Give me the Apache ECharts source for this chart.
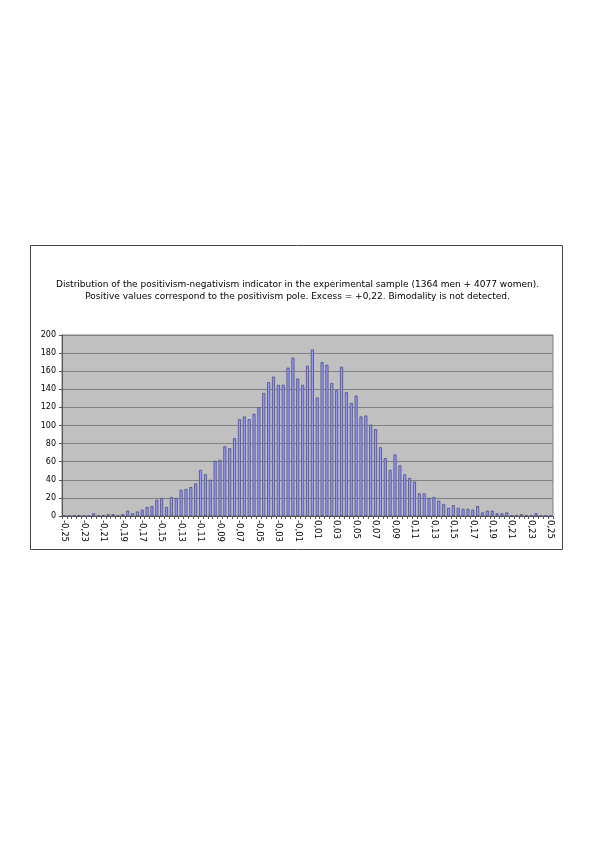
<!DOCTYPE html>
<html>
<head>
<meta charset="utf-8">
<style>
html,body{margin:0;padding:0;background:#fff;}
#chart{width:595px;height:842px;}
</style>
<script src="https://cdn.jsdelivr.net/npm/echarts@6/dist/echarts.min.js"></script>
</head>
<body>
<div id="chart"></div>
<script>
// Bin labels (centers), step 0.005 from -0.25 to 0.25
var categories = [
"-0,25","-0,245","-0,24","-0,235","-0,23","-0,225","-0,22","-0,215","-0,21","-0,205",
"-0,2","-0,195","-0,19","-0,185","-0,18","-0,175","-0,17","-0,165","-0,16","-0,155",
"-0,15","-0,145","-0,14","-0,135","-0,13","-0,125","-0,12","-0,115","-0,11","-0,105",
"-0,1","-0,095","-0,09","-0,085","-0,08","-0,075","-0,07","-0,065","-0,06","-0,055",
"-0,05","-0,045","-0,04","-0,035","-0,03","-0,025","-0,02","-0,015","-0,01","-0,005",
"0","0,005","0,01","0,015","0,02","0,025","0,03","0,035","0,04","0,045",
"0,05","0,055","0,06","0,065","0,07","0,075","0,08","0,085","0,09","0,095",
"0,1","0,105","0,11","0,115","0,12","0,125","0,13","0,135","0,14","0,145",
"0,15","0,155","0,16","0,165","0,17","0,175","0,18","0,185","0,19","0,195",
"0,2","0,205","0,21","0,215","0,22","0,225","0,23","0,235","0,24","0,245",
"0,25"
];
// Counts per bin
var counts = [
0,0,1,1,0,0,3,1,1,2,
2,1,2,6,3,5,7,10,11,18,
20,10,21,20,29,30,32,36,51,46,
40,61,62,77,75,86,107,110,107,113,
120,136,148,154,145,145,164,175,152,145,
166,184,131,170,167,147,139,165,137,125,
133,110,111,101,96,76,64,51,68,56,
46,42,38,25,25,20,21,17,13,9,
12,9,8,8,7,11,4,6,6,3,
3,4,1,1,2,1,1,3,0,0,
0
];
var yTicks = [0,20,40,60,80,100,120,140,160,180,200];
var titleLines = [
"Distribution of the positivism-negativism indicator in the experimental sample (1364 men + 4077 women).",
"Positive values correspond to the positivism pole. Excess = +0,22. Bimodality is not detected."
];

var chart = echarts.init(document.getElementById('chart'), null, {renderer:'canvas'});
var FONT = 'DejaVu Sans';
chart.setOption({
  animation:false,
  backgroundColor:'#ffffff',
  title:{
    text: titleLines.join('\n'),
    left:'center',
    top:274,
    textStyle:{fontFamily:FONT,fontSize:9,fontWeight:'normal',color:'#000',lineHeight:12}
  },
  grid:{left:62,right:42,top:335,bottom:326,show:true,backgroundColor:'#c0c0c0',borderColor:'#808080',borderWidth:1},
  xAxis:{
    type:'category',
    data:categories,
    boundaryGap:true,
    axisLine:{show:true,lineStyle:{color:'#555',width:1}},
    axisTick:{show:true,interval:0,length:3,lineStyle:{color:'#555'}},
    axisLabel:{interval:3,rotate:-90,margin:4,fontFamily:FONT,fontSize:8.5,color:'#000'},
    splitLine:{show:false}
  },
  yAxis:{
    type:'value',
    min:yTicks[0],
    max:yTicks[yTicks.length-1],
    interval:20,
    axisLine:{show:true,lineStyle:{color:'#555',width:1}},
    axisTick:{show:true,length:3,lineStyle:{color:'#555'}},
    axisLabel:{margin:6,fontFamily:FONT,fontSize:8,color:'#000'},
    splitLine:{show:true,lineStyle:{color:'#808080',width:1}}
  },
  series:[{
    type:'bar',
    data:counts,
    barCategoryGap:'38%',
    itemStyle:{color:'#9999ff',borderColor:'#4d4d80',borderWidth:0.8}
  }],
  graphic:[{
    type:'rect',
    shape:{x:30.5,y:245.5,width:532,height:304},
    style:{fill:'none',stroke:'#444',lineWidth:1},
    silent:true
  }]
});
</script>
</body>
</html>
